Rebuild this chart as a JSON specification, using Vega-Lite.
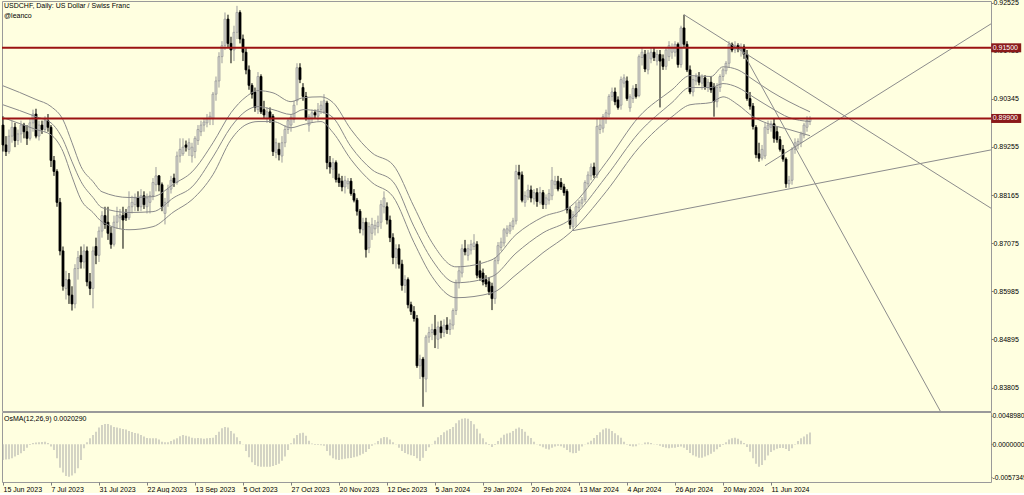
{
"$schema": "https://vega.github.io/schema/vega-lite/v6.json",
"background": "#FFFFE0",
"padding": {"left": 0, "top": -2, "right": 0, "bottom": 0},
"spacing": -1,
"resolve": {"scale": {"x": "independent", "y": "independent"}},
"config": {
  "view": {"stroke": "#9a9a9a", "strokeWidth": 1},
  "font": "Liberation Sans",
  "axis": {"labelFont": "Liberation Sans", "labelFontSize": 7, "labelColor": "#000000", "tickColor": "#808080", "domain": false, "grid": false, "title": null},
  "title": {"font": "Liberation Sans", "fontSize": 7, "fontWeight": "normal", "color": "#000000", "subtitleFont": "Liberation Sans", "subtitleFontSize": 7, "subtitleColor": "#000000", "anchor": "start"}
},
"datasets": {
"candles": [
{"i":0,"d":"2023-06-15","o":0.8975,"h":0.8995,"l":0.8915,"c":0.8930,"osma":-0.00271},
{"i":1,"d":"2023-06-16","o":0.8930,"h":0.8950,"l":0.8905,"c":0.8915,"osma":-0.00265},
{"i":2,"d":"2023-06-19","o":0.8915,"h":0.8965,"l":0.8910,"c":0.8950,"osma":-0.00260},
{"i":3,"d":"2023-06-20","o":0.8950,"h":0.8985,"l":0.8935,"c":0.8970,"osma":-0.00242},
{"i":4,"d":"2023-06-21","o":0.8970,"h":0.8980,"l":0.8925,"c":0.8940,"osma":-0.00213},
{"i":5,"d":"2023-06-22","o":0.8940,"h":0.8965,"l":0.8930,"c":0.8955,"osma":-0.00185},
{"i":6,"d":"2023-06-23","o":0.8955,"h":0.8985,"l":0.8935,"c":0.8975,"osma":-0.00156},
{"i":7,"d":"2023-06-26","o":0.8975,"h":0.8980,"l":0.8945,"c":0.8960,"osma":-0.00115},
{"i":8,"d":"2023-06-27","o":0.8960,"h":0.8975,"l":0.8930,"c":0.8945,"osma":-0.00058},
{"i":9,"d":"2023-06-28","o":0.8945,"h":0.8990,"l":0.8940,"c":0.8980,"osma":-0.00012},
{"i":10,"d":"2023-06-29","o":0.8980,"h":0.9010,"l":0.8960,"c":0.9000,"osma":0.00023},
{"i":11,"d":"2023-06-30","o":0.9000,"h":0.9012,"l":0.8945,"c":0.8950,"osma":0.00029},
{"i":12,"d":"2023-07-03","o":0.8950,"h":0.8985,"l":0.8940,"c":0.8975,"osma":0.00035},
{"i":13,"d":"2023-07-04","o":0.8975,"h":0.8985,"l":0.8955,"c":0.8965,"osma":0.00040},
{"i":14,"d":"2023-07-05","o":0.8965,"h":0.8995,"l":0.8960,"c":0.8985,"osma":0.00046},
{"i":15,"d":"2023-07-06","o":0.8985,"h":0.9000,"l":0.8960,"c":0.8970,"osma":0.00023},
{"i":16,"d":"2023-07-07","o":0.8970,"h":0.8975,"l":0.8880,"c":0.8895,"osma":-0.00040},
{"i":17,"d":"2023-07-10","o":0.8895,"h":0.8905,"l":0.8860,"c":0.8870,"osma":-0.00098},
{"i":18,"d":"2023-07-11","o":0.8870,"h":0.8875,"l":0.8790,"c":0.8800,"osma":-0.00242},
{"i":19,"d":"2023-07-12","o":0.8800,"h":0.8810,"l":0.8680,"c":0.8690,"osma":-0.00404},
{"i":20,"d":"2023-07-13","o":0.8690,"h":0.8700,"l":0.8600,"c":0.8610,"osma":-0.00490},
{"i":21,"d":"2023-07-14","o":0.8605,"h":0.8645,"l":0.8580,"c":0.8625,"osma":-0.00548},
{"i":22,"d":"2023-07-17","o":0.8625,"h":0.8640,"l":0.8570,"c":0.8590,"osma":-0.00560},
{"i":23,"d":"2023-07-18","o":0.8590,"h":0.8610,"l":0.8555,"c":0.8570,"osma":-0.00542},
{"i":24,"d":"2023-07-19","o":0.8570,"h":0.8660,"l":0.8560,"c":0.8650,"osma":-0.00502},
{"i":25,"d":"2023-07-20","o":0.8650,"h":0.8690,"l":0.8625,"c":0.8675,"osma":-0.00415},
{"i":26,"d":"2023-07-21","o":0.8680,"h":0.8700,"l":0.8650,"c":0.8665,"osma":-0.00271},
{"i":27,"d":"2023-07-24","o":0.8665,"h":0.8705,"l":0.8650,"c":0.8690,"osma":-0.00069},
{"i":28,"d":"2023-07-25","o":0.8690,"h":0.8700,"l":0.8610,"c":0.8620,"osma":0.00035},
{"i":29,"d":"2023-07-26","o":0.8620,"h":0.8640,"l":0.8590,"c":0.8605,"osma":0.00104},
{"i":30,"d":"2023-07-27","o":0.8605,"h":0.8700,"l":0.8560,"c":0.8690,"osma":0.00162},
{"i":31,"d":"2023-07-28","o":0.8700,"h":0.8720,"l":0.8660,"c":0.8680,"osma":0.00219},
{"i":32,"d":"2023-07-31","o":0.8680,"h":0.8745,"l":0.8665,"c":0.8735,"osma":0.00289},
{"i":33,"d":"2023-08-01","o":0.8735,"h":0.8780,"l":0.8720,"c":0.8770,"osma":0.00335},
{"i":34,"d":"2023-08-02","o":0.8770,"h":0.8790,"l":0.8740,"c":0.8750,"osma":0.00352},
{"i":35,"d":"2023-08-03","o":0.8755,"h":0.8790,"l":0.8715,"c":0.8730,"osma":0.00352},
{"i":36,"d":"2023-08-04","o":0.8730,"h":0.8745,"l":0.8695,"c":0.8705,"osma":0.00329},
{"i":37,"d":"2023-08-07","o":0.8705,"h":0.8770,"l":0.8700,"c":0.8755,"osma":0.00300},
{"i":38,"d":"2023-08-08","o":0.8755,"h":0.8790,"l":0.8740,"c":0.8770,"osma":0.00289},
{"i":39,"d":"2023-08-09","o":0.8765,"h":0.8785,"l":0.8740,"c":0.8772,"osma":0.00277},
{"i":40,"d":"2023-08-10","o":0.8770,"h":0.8790,"l":0.8695,"c":0.8760,"osma":0.00265},
{"i":41,"d":"2023-08-11","o":0.8775,"h":0.8785,"l":0.8758,"c":0.8765,"osma":0.00254},
{"i":42,"d":"2023-08-14","o":0.8765,"h":0.8825,"l":0.8760,"c":0.8790,"osma":0.00231},
{"i":43,"d":"2023-08-15","o":0.8790,"h":0.8815,"l":0.8775,"c":0.8800,"osma":0.00213},
{"i":44,"d":"2023-08-16","o":0.8795,"h":0.8820,"l":0.8780,"c":0.8810,"osma":0.00196},
{"i":45,"d":"2023-08-17","o":0.8810,"h":0.8825,"l":0.8780,"c":0.8790,"osma":0.00185},
{"i":46,"d":"2023-08-18","o":0.8790,"h":0.8830,"l":0.8780,"c":0.8815,"osma":0.00162},
{"i":47,"d":"2023-08-21","o":0.8815,"h":0.8825,"l":0.8785,"c":0.8795,"osma":0.00133},
{"i":48,"d":"2023-08-22","o":0.8790,"h":0.8820,"l":0.8775,"c":0.8810,"osma":0.00110},
{"i":49,"d":"2023-08-23","o":0.8800,"h":0.8825,"l":0.8775,"c":0.8815,"osma":0.00104},
{"i":50,"d":"2023-08-24","o":0.8815,"h":0.8855,"l":0.8805,"c":0.8845,"osma":0.00104},
{"i":51,"d":"2023-08-25","o":0.8840,"h":0.8880,"l":0.8825,"c":0.8860,"osma":0.00104},
{"i":52,"d":"2023-08-28","o":0.8860,"h":0.8862,"l":0.8825,"c":0.8840,"osma":0.00081},
{"i":53,"d":"2023-08-29","o":0.8840,"h":0.8845,"l":0.8780,"c":0.8790,"osma":0.00046},
{"i":54,"d":"2023-08-30","o":0.8775,"h":0.8810,"l":0.8750,"c":0.8800,"osma":0.00035},
{"i":55,"d":"2023-08-31","o":0.8800,"h":0.8840,"l":0.8790,"c":0.8830,"osma":0.00035},
{"i":56,"d":"2023-09-01","o":0.8830,"h":0.8860,"l":0.8820,"c":0.8850,"osma":0.00058},
{"i":57,"d":"2023-09-04","o":0.8855,"h":0.8865,"l":0.8835,"c":0.8845,"osma":0.00081},
{"i":58,"d":"2023-09-05","o":0.8845,"h":0.8915,"l":0.8840,"c":0.8905,"osma":0.00104},
{"i":59,"d":"2023-09-06","o":0.8905,"h":0.8945,"l":0.8890,"c":0.8920,"osma":0.00138},
{"i":60,"d":"2023-09-07","o":0.8910,"h":0.8945,"l":0.8905,"c":0.8925,"osma":0.00162},
{"i":61,"d":"2023-09-08","o":0.8930,"h":0.8940,"l":0.8915,"c":0.8925,"osma":0.00150},
{"i":62,"d":"2023-09-11","o":0.8920,"h":0.8945,"l":0.8905,"c":0.8935,"osma":0.00133},
{"i":63,"d":"2023-09-12","o":0.8905,"h":0.8935,"l":0.8890,"c":0.8925,"osma":0.00115},
{"i":64,"d":"2023-09-13","o":0.8915,"h":0.8950,"l":0.8900,"c":0.8945,"osma":0.00104},
{"i":65,"d":"2023-09-14","o":0.8940,"h":0.8975,"l":0.8930,"c":0.8965,"osma":0.00110},
{"i":66,"d":"2023-09-15","o":0.8960,"h":0.8985,"l":0.8950,"c":0.8975,"osma":0.00104},
{"i":67,"d":"2023-09-18","o":0.8975,"h":0.8990,"l":0.8960,"c":0.8982,"osma":0.00098},
{"i":68,"d":"2023-09-19","o":0.8980,"h":0.9000,"l":0.8970,"c":0.8990,"osma":0.00104},
{"i":69,"d":"2023-09-20","o":0.8990,"h":0.9005,"l":0.8975,"c":0.8995,"osma":0.00110},
{"i":70,"d":"2023-09-21","o":0.8990,"h":0.9050,"l":0.8975,"c":0.9045,"osma":0.00115},
{"i":71,"d":"2023-09-22","o":0.9045,"h":0.9085,"l":0.9030,"c":0.9075,"osma":0.00162},
{"i":72,"d":"2023-09-25","o":0.9075,"h":0.9140,"l":0.9060,"c":0.9130,"osma":0.00219},
{"i":73,"d":"2023-09-26","o":0.9130,"h":0.9165,"l":0.9115,"c":0.9155,"osma":0.00277},
{"i":74,"d":"2023-09-27","o":0.9155,"h":0.9230,"l":0.9145,"c":0.9215,"osma":0.00300},
{"i":75,"d":"2023-09-28","o":0.9215,"h":0.9225,"l":0.9150,"c":0.9160,"osma":0.00289},
{"i":76,"d":"2023-09-29","o":0.9160,"h":0.9175,"l":0.9115,"c":0.9145,"osma":0.00231},
{"i":77,"d":"2023-10-02","o":0.9145,"h":0.9200,"l":0.9120,"c":0.9185,"osma":0.00185},
{"i":78,"d":"2023-10-03","o":0.9185,"h":0.9245,"l":0.9170,"c":0.9230,"osma":0.00121},
{"i":79,"d":"2023-10-04","o":0.9230,"h":0.9235,"l":0.9160,"c":0.9170,"osma":0.00058},
{"i":80,"d":"2023-10-05","o":0.9170,"h":0.9180,"l":0.9120,"c":0.9140,"osma":-0.00005},
{"i":81,"d":"2023-10-06","o":0.9140,"h":0.9150,"l":0.9090,"c":0.9100,"osma":-0.00115},
{"i":82,"d":"2023-10-09","o":0.9100,"h":0.9110,"l":0.9055,"c":0.9065,"osma":-0.00225},
{"i":83,"d":"2023-10-10","o":0.9065,"h":0.9070,"l":0.9035,"c":0.9045,"osma":-0.00312},
{"i":84,"d":"2023-10-11","o":0.9050,"h":0.9060,"l":0.9005,"c":0.9015,"osma":-0.00358},
{"i":85,"d":"2023-10-12","o":0.9010,"h":0.9095,"l":0.9000,"c":0.9085,"osma":-0.00381},
{"i":86,"d":"2023-10-13","o":0.9085,"h":0.9090,"l":0.9000,"c":0.9005,"osma":-0.00387},
{"i":87,"d":"2023-10-16","o":0.9010,"h":0.9030,"l":0.8990,"c":0.8998,"osma":-0.00387},
{"i":88,"d":"2023-10-17","o":0.8990,"h":0.9015,"l":0.8980,"c":0.9005,"osma":-0.00387},
{"i":89,"d":"2023-10-18","o":0.9005,"h":0.9015,"l":0.8980,"c":0.8990,"osma":-0.00387},
{"i":90,"d":"2023-10-19","o":0.8995,"h":0.9000,"l":0.8905,"c":0.8915,"osma":-0.00375},
{"i":91,"d":"2023-10-20","o":0.8913,"h":0.8945,"l":0.8900,"c":0.8935,"osma":-0.00358},
{"i":92,"d":"2023-10-23","o":0.8920,"h":0.8935,"l":0.8895,"c":0.8908,"osma":-0.00335},
{"i":93,"d":"2023-10-24","o":0.8905,"h":0.8950,"l":0.8890,"c":0.8935,"osma":-0.00283},
{"i":94,"d":"2023-10-25","o":0.8935,"h":0.8975,"l":0.8925,"c":0.8965,"osma":-0.00213},
{"i":95,"d":"2023-10-26","o":0.8965,"h":0.8990,"l":0.8955,"c":0.8985,"osma":-0.00098},
{"i":96,"d":"2023-10-27","o":0.8975,"h":0.9000,"l":0.8960,"c":0.8993,"osma":0.00017},
{"i":97,"d":"2023-10-30","o":0.8988,"h":0.9030,"l":0.8980,"c":0.9020,"osma":0.00104},
{"i":98,"d":"2023-10-31","o":0.9030,"h":0.9115,"l":0.9020,"c":0.9105,"osma":0.00162},
{"i":99,"d":"2023-11-01","o":0.9105,"h":0.9115,"l":0.9070,"c":0.9078,"osma":0.00190},
{"i":100,"d":"2023-11-02","o":0.9060,"h":0.9070,"l":0.9030,"c":0.9040,"osma":0.00202},
{"i":101,"d":"2023-11-03","o":0.9040,"h":0.9050,"l":0.8985,"c":0.8990,"osma":0.00150},
{"i":102,"d":"2023-11-06","o":0.8975,"h":0.9000,"l":0.8960,"c":0.8995,"osma":0.00063},
{"i":103,"d":"2023-11-07","o":0.8990,"h":0.9010,"l":0.8980,"c":0.9003,"osma":0.00012},
{"i":104,"d":"2023-11-08","o":0.9003,"h":0.9010,"l":0.8990,"c":0.8998,"osma":-0.00012},
{"i":105,"d":"2023-11-09","o":0.8995,"h":0.9025,"l":0.8985,"c":0.9010,"osma":-0.00012},
{"i":106,"d":"2023-11-10","o":0.9010,"h":0.9030,"l":0.9000,"c":0.9020,"osma":-0.00017},
{"i":107,"d":"2023-11-13","o":0.9005,"h":0.9045,"l":0.9000,"c":0.9030,"osma":-0.00023},
{"i":108,"d":"2023-11-14","o":0.9025,"h":0.9030,"l":0.8875,"c":0.8890,"osma":-0.00115},
{"i":109,"d":"2023-11-15","o":0.8890,"h":0.8905,"l":0.8865,"c":0.8880,"osma":-0.00196},
{"i":110,"d":"2023-11-16","o":0.8875,"h":0.8900,"l":0.8855,"c":0.8890,"osma":-0.00242},
{"i":111,"d":"2023-11-17","o":0.8890,"h":0.8895,"l":0.8845,"c":0.8852,"osma":-0.00265},
{"i":112,"d":"2023-11-20","o":0.8855,"h":0.8865,"l":0.8835,"c":0.8845,"osma":-0.00271},
{"i":113,"d":"2023-11-21","o":0.8848,"h":0.8860,"l":0.8825,"c":0.8835,"osma":-0.00260},
{"i":114,"d":"2023-11-22","o":0.8835,"h":0.8860,"l":0.8820,"c":0.8850,"osma":-0.00248},
{"i":115,"d":"2023-11-23","o":0.8842,"h":0.8855,"l":0.8830,"c":0.8848,"osma":-0.00242},
{"i":116,"d":"2023-11-24","o":0.8848,"h":0.8855,"l":0.8815,"c":0.8820,"osma":-0.00237},
{"i":117,"d":"2023-11-27","o":0.8820,"h":0.8830,"l":0.8800,"c":0.8805,"osma":-0.00225},
{"i":118,"d":"2023-11-28","o":0.8805,"h":0.8810,"l":0.8770,"c":0.8780,"osma":-0.00213},
{"i":119,"d":"2023-11-29","o":0.8780,"h":0.8785,"l":0.8730,"c":0.8740,"osma":-0.00190},
{"i":120,"d":"2023-11-30","o":0.8738,"h":0.8765,"l":0.8725,"c":0.8754,"osma":-0.00162},
{"i":121,"d":"2023-12-01","o":0.8755,"h":0.8765,"l":0.8675,"c":0.8693,"osma":-0.00133},
{"i":122,"d":"2023-12-04","o":0.8697,"h":0.8755,"l":0.8685,"c":0.8745,"osma":-0.00081},
{"i":123,"d":"2023-12-05","o":0.8730,"h":0.8765,"l":0.8715,"c":0.8750,"osma":-0.00023},
{"i":124,"d":"2023-12-06","o":0.8740,"h":0.8760,"l":0.8725,"c":0.8748,"osma":0.00012},
{"i":125,"d":"2023-12-07","o":0.8745,"h":0.8770,"l":0.8730,"c":0.8755,"osma":0.00058},
{"i":126,"d":"2023-12-08","o":0.8755,"h":0.8805,"l":0.8740,"c":0.8795,"osma":0.00104},
{"i":127,"d":"2023-12-11","o":0.8790,"h":0.8825,"l":0.8775,"c":0.8810,"osma":0.00127},
{"i":128,"d":"2023-12-12","o":0.8790,"h":0.8800,"l":0.8750,"c":0.8760,"osma":0.00121},
{"i":129,"d":"2023-12-13","o":0.8760,"h":0.8770,"l":0.8710,"c":0.8720,"osma":0.00081},
{"i":130,"d":"2023-12-14","o":0.8720,"h":0.8730,"l":0.8660,"c":0.8675,"osma":0.00035},
{"i":131,"d":"2023-12-15","o":0.8675,"h":0.8705,"l":0.8650,"c":0.8695,"osma":-0.00005},
{"i":132,"d":"2023-12-18","o":0.8695,"h":0.8705,"l":0.8650,"c":0.8660,"osma":-0.00058},
{"i":133,"d":"2023-12-19","o":0.8660,"h":0.8670,"l":0.8600,"c":0.8612,"osma":-0.00115},
{"i":134,"d":"2023-12-20","o":0.8612,"h":0.8635,"l":0.8595,"c":0.8625,"osma":-0.00150},
{"i":135,"d":"2023-12-21","o":0.8625,"h":0.8630,"l":0.8560,"c":0.8568,"osma":-0.00173},
{"i":136,"d":"2023-12-22","o":0.8568,"h":0.8575,"l":0.8545,"c":0.8553,"osma":-0.00190},
{"i":137,"d":"2023-12-26","o":0.8553,"h":0.8565,"l":0.8530,"c":0.8537,"osma":-0.00202},
{"i":138,"d":"2023-12-27","o":0.8537,"h":0.8545,"l":0.8425,"c":0.8430,"osma":-0.00242},
{"i":139,"d":"2023-12-28","o":0.8430,"h":0.8455,"l":0.8400,"c":0.8445,"osma":-0.00289},
{"i":140,"d":"2023-12-29","o":0.8445,"h":0.8450,"l":0.8337,"c":0.8405,"osma":-0.00231},
{"i":141,"d":"2024-01-02","o":0.8400,"h":0.8500,"l":0.8370,"c":0.8495,"osma":-0.00115},
{"i":142,"d":"2024-01-03","o":0.8495,"h":0.8518,"l":0.8482,"c":0.8505,"osma":-0.00052},
{"i":143,"d":"2024-01-04","o":0.8505,"h":0.8525,"l":0.8488,"c":0.8512,"osma":0.00006},
{"i":144,"d":"2024-01-05","o":0.8512,"h":0.8545,"l":0.8470,"c":0.8500,"osma":0.00063},
{"i":145,"d":"2024-01-08","o":0.8490,"h":0.8530,"l":0.8468,"c":0.8518,"osma":0.00121},
{"i":146,"d":"2024-01-09","o":0.8518,"h":0.8532,"l":0.8492,"c":0.8505,"osma":0.00162},
{"i":147,"d":"2024-01-10","o":0.8505,"h":0.8535,"l":0.8495,"c":0.8522,"osma":0.00208},
{"i":148,"d":"2024-01-11","o":0.8522,"h":0.8540,"l":0.8502,"c":0.8512,"osma":0.00237},
{"i":149,"d":"2024-01-12","o":0.8512,"h":0.8535,"l":0.8500,"c":0.8525,"osma":0.00265},
{"i":150,"d":"2024-01-15","o":0.8522,"h":0.8560,"l":0.8512,"c":0.8555,"osma":0.00300},
{"i":151,"d":"2024-01-16","o":0.8555,"h":0.8625,"l":0.8545,"c":0.8618,"osma":0.00364},
{"i":152,"d":"2024-01-17","o":0.8618,"h":0.8655,"l":0.8605,"c":0.8645,"osma":0.00415},
{"i":153,"d":"2024-01-18","o":0.8640,"h":0.8705,"l":0.8630,"c":0.8695,"osma":0.00444},
{"i":154,"d":"2024-01-19","o":0.8695,"h":0.8715,"l":0.8680,"c":0.8688,"osma":0.00450},
{"i":155,"d":"2024-01-22","o":0.8680,"h":0.8705,"l":0.8668,"c":0.8695,"osma":0.00444},
{"i":156,"d":"2024-01-23","o":0.8692,"h":0.8715,"l":0.8682,"c":0.8705,"osma":0.00404},
{"i":157,"d":"2024-01-24","o":0.8700,"h":0.8728,"l":0.8692,"c":0.8708,"osma":0.00346},
{"i":158,"d":"2024-01-25","o":0.8705,"h":0.8712,"l":0.8628,"c":0.8635,"osma":0.00271},
{"i":159,"d":"2024-01-26","o":0.8645,"h":0.8668,"l":0.8622,"c":0.8630,"osma":0.00185},
{"i":160,"d":"2024-01-29","o":0.8640,"h":0.8650,"l":0.8612,"c":0.8620,"osma":0.00104},
{"i":161,"d":"2024-01-30","o":0.8625,"h":0.8635,"l":0.8608,"c":0.8615,"osma":0.00035},
{"i":162,"d":"2024-01-31","o":0.8620,"h":0.8630,"l":0.8590,"c":0.8598,"osma":-0.00012},
{"i":163,"d":"2024-02-01","o":0.8610,"h":0.8618,"l":0.8556,"c":0.8582,"osma":-0.00046},
{"i":164,"d":"2024-02-02","o":0.8582,"h":0.8675,"l":0.8570,"c":0.8668,"osma":-0.00012},
{"i":165,"d":"2024-02-05","o":0.8668,"h":0.8710,"l":0.8660,"c":0.8702,"osma":0.00058},
{"i":166,"d":"2024-02-06","o":0.8698,"h":0.8720,"l":0.8690,"c":0.8710,"osma":0.00115},
{"i":167,"d":"2024-02-07","o":0.8708,"h":0.8742,"l":0.8700,"c":0.8738,"osma":0.00167},
{"i":168,"d":"2024-02-08","o":0.8730,"h":0.8748,"l":0.8722,"c":0.8740,"osma":0.00185},
{"i":169,"d":"2024-02-09","o":0.8735,"h":0.8755,"l":0.8728,"c":0.8748,"osma":0.00202},
{"i":170,"d":"2024-02-12","o":0.8745,"h":0.8765,"l":0.8738,"c":0.8758,"osma":0.00231},
{"i":171,"d":"2024-02-13","o":0.8758,"h":0.8885,"l":0.8750,"c":0.8870,"osma":0.00271},
{"i":172,"d":"2024-02-14","o":0.8868,"h":0.8885,"l":0.8852,"c":0.8862,"osma":0.00289},
{"i":173,"d":"2024-02-15","o":0.8862,"h":0.8870,"l":0.8800,"c":0.8805,"osma":0.00265},
{"i":174,"d":"2024-02-16","o":0.8800,"h":0.8825,"l":0.8790,"c":0.8815,"osma":0.00219},
{"i":175,"d":"2024-02-19","o":0.8812,"h":0.8840,"l":0.8805,"c":0.8828,"osma":0.00150},
{"i":176,"d":"2024-02-20","o":0.8828,"h":0.8838,"l":0.8800,"c":0.8810,"osma":0.00110},
{"i":177,"d":"2024-02-21","o":0.8808,"h":0.8830,"l":0.8795,"c":0.8822,"osma":0.00046},
{"i":178,"d":"2024-02-22","o":0.8822,"h":0.8832,"l":0.8790,"c":0.8802,"osma":-0.00005},
{"i":179,"d":"2024-02-23","o":0.8800,"h":0.8835,"l":0.8795,"c":0.8822,"osma":-0.00023},
{"i":180,"d":"2024-02-26","o":0.8822,"h":0.8828,"l":0.8785,"c":0.8795,"osma":-0.00052},
{"i":181,"d":"2024-02-27","o":0.8795,"h":0.8818,"l":0.8785,"c":0.8810,"osma":-0.00075},
{"i":182,"d":"2024-02-28","o":0.8805,"h":0.8830,"l":0.8795,"c":0.8820,"osma":-0.00092},
{"i":183,"d":"2024-02-29","o":0.8815,"h":0.8880,"l":0.8805,"c":0.8850,"osma":-0.00058},
{"i":184,"d":"2024-03-01","o":0.8840,"h":0.8860,"l":0.8830,"c":0.8848,"osma":-0.00040},
{"i":185,"d":"2024-03-04","o":0.8848,"h":0.8860,"l":0.8825,"c":0.8830,"osma":-0.00023},
{"i":186,"d":"2024-03-05","o":0.8845,"h":0.8855,"l":0.8828,"c":0.8835,"osma":-0.00035},
{"i":187,"d":"2024-03-06","o":0.8835,"h":0.8842,"l":0.8815,"c":0.8822,"osma":-0.00058},
{"i":188,"d":"2024-03-07","o":0.8825,"h":0.8830,"l":0.8775,"c":0.8783,"osma":-0.00098},
{"i":189,"d":"2024-03-08","o":0.8783,"h":0.8790,"l":0.8740,"c":0.8750,"osma":-0.00138},
{"i":190,"d":"2024-03-11","o":0.8745,"h":0.8780,"l":0.8736,"c":0.8772,"osma":-0.00156},
{"i":191,"d":"2024-03-12","o":0.8768,"h":0.8800,"l":0.8745,"c":0.8790,"osma":-0.00150},
{"i":192,"d":"2024-03-13","o":0.8788,"h":0.8805,"l":0.8778,"c":0.8800,"osma":-0.00110},
{"i":193,"d":"2024-03-14","o":0.8798,"h":0.8812,"l":0.8790,"c":0.8806,"osma":-0.00040},
{"i":194,"d":"2024-03-15","o":0.8806,"h":0.8850,"l":0.8800,"c":0.8845,"osma":-0.00005},
{"i":195,"d":"2024-03-18","o":0.8842,"h":0.8870,"l":0.8835,"c":0.8862,"osma":0.00029},
{"i":196,"d":"2024-03-19","o":0.8860,"h":0.8888,"l":0.8850,"c":0.8880,"osma":0.00063},
{"i":197,"d":"2024-03-20","o":0.8880,"h":0.8890,"l":0.8855,"c":0.8862,"osma":0.00110},
{"i":198,"d":"2024-03-21","o":0.8862,"h":0.8990,"l":0.8855,"c":0.8972,"osma":0.00162},
{"i":199,"d":"2024-03-22","o":0.8965,"h":0.8990,"l":0.8955,"c":0.8975,"osma":0.00208},
{"i":200,"d":"2024-03-25","o":0.8968,"h":0.9000,"l":0.8958,"c":0.8994,"osma":0.00254},
{"i":201,"d":"2024-03-26","o":0.8990,"h":0.9010,"l":0.8978,"c":0.9003,"osma":0.00277},
{"i":202,"d":"2024-03-27","o":0.9000,"h":0.9045,"l":0.8992,"c":0.9040,"osma":0.00271},
{"i":203,"d":"2024-03-28","o":0.9040,"h":0.9060,"l":0.9030,"c":0.9050,"osma":0.00231},
{"i":204,"d":"2024-03-29","o":0.9050,"h":0.9060,"l":0.9020,"c":0.9028,"osma":0.00190},
{"i":205,"d":"2024-04-01","o":0.9032,"h":0.9040,"l":0.9010,"c":0.9015,"osma":0.00156},
{"i":206,"d":"2024-04-02","o":0.9020,"h":0.9085,"l":0.9010,"c":0.9078,"osma":0.00115},
{"i":207,"d":"2024-04-03","o":0.9070,"h":0.9090,"l":0.9060,"c":0.9082,"osma":0.00046},
{"i":208,"d":"2024-04-04","o":0.9075,"h":0.9085,"l":0.9030,"c":0.9035,"osma":-0.00006},
{"i":209,"d":"2024-04-05","o":0.9014,"h":0.9045,"l":0.9005,"c":0.9039,"osma":-0.00029},
{"i":210,"d":"2024-04-08","o":0.9035,"h":0.9065,"l":0.9025,"c":0.9058,"osma":-0.00040},
{"i":211,"d":"2024-04-09","o":0.9058,"h":0.9068,"l":0.9035,"c":0.9040,"osma":-0.00035},
{"i":212,"d":"2024-04-10","o":0.9042,"h":0.9135,"l":0.9038,"c":0.9130,"osma":0.00010},
{"i":213,"d":"2024-04-11","o":0.9128,"h":0.9150,"l":0.9110,"c":0.9140,"osma":0.00006},
{"i":214,"d":"2024-04-12","o":0.9135,"h":0.9145,"l":0.9095,"c":0.9102,"osma":0.00029},
{"i":215,"d":"2024-04-15","o":0.9100,"h":0.9145,"l":0.9090,"c":0.9138,"osma":0.00035},
{"i":216,"d":"2024-04-16","o":0.9125,"h":0.9150,"l":0.9115,"c":0.9140,"osma":0.00023},
{"i":217,"d":"2024-04-17","o":0.9140,"h":0.9150,"l":0.9120,"c":0.9128,"osma":0.00006},
{"i":218,"d":"2024-04-18","o":0.9120,"h":0.9145,"l":0.9110,"c":0.9135,"osma":-0.00006},
{"i":219,"d":"2024-04-19","o":0.9135,"h":0.9145,"l":0.9015,"c":0.9120,"osma":-0.00023},
{"i":220,"d":"2024-04-22","o":0.9125,"h":0.9135,"l":0.9100,"c":0.9108,"osma":-0.00046},
{"i":221,"d":"2024-04-23","o":0.9108,"h":0.9150,"l":0.9100,"c":0.9145,"osma":-0.00058},
{"i":222,"d":"2024-04-24","o":0.9130,"h":0.9165,"l":0.9120,"c":0.9155,"osma":-0.00069},
{"i":223,"d":"2024-04-25","o":0.9140,"h":0.9160,"l":0.9125,"c":0.9150,"osma":-0.00058},
{"i":224,"d":"2024-04-26","o":0.9140,"h":0.9165,"l":0.9130,"c":0.9158,"osma":-0.00058},
{"i":225,"d":"2024-04-29","o":0.9158,"h":0.9162,"l":0.9105,"c":0.9112,"osma":-0.00046},
{"i":226,"d":"2024-04-30","o":0.9112,"h":0.9200,"l":0.9105,"c":0.9195,"osma":-0.00040},
{"i":227,"d":"2024-05-01","o":0.9195,"h":0.9225,"l":0.9150,"c":0.9158,"osma":-0.00058},
{"i":228,"d":"2024-05-02","o":0.9158,"h":0.9165,"l":0.9095,"c":0.9100,"osma":-0.00098},
{"i":229,"d":"2024-05-03","o":0.9100,"h":0.9110,"l":0.9045,"c":0.9050,"osma":-0.00150},
{"i":230,"d":"2024-05-06","o":0.9050,"h":0.9085,"l":0.9040,"c":0.9078,"osma":-0.00190},
{"i":231,"d":"2024-05-07","o":0.9075,"h":0.9092,"l":0.9065,"c":0.9085,"osma":-0.00213},
{"i":232,"d":"2024-05-08","o":0.9085,"h":0.9095,"l":0.9065,"c":0.9072,"osma":-0.00231},
{"i":233,"d":"2024-05-09","o":0.9070,"h":0.9090,"l":0.9055,"c":0.9082,"osma":-0.00231},
{"i":234,"d":"2024-05-10","o":0.9082,"h":0.9088,"l":0.9055,"c":0.9062,"osma":-0.00213},
{"i":235,"d":"2024-05-13","o":0.9060,"h":0.9080,"l":0.9050,"c":0.9072,"osma":-0.00190},
{"i":236,"d":"2024-05-14","o":0.9072,"h":0.9085,"l":0.9048,"c":0.9055,"osma":-0.00162},
{"i":237,"d":"2024-05-15","o":0.9062,"h":0.9070,"l":0.8994,"c":0.9028,"osma":-0.00127},
{"i":238,"d":"2024-05-16","o":0.9028,"h":0.9070,"l":0.9015,"c":0.9060,"osma":-0.00087},
{"i":239,"d":"2024-05-17","o":0.9060,"h":0.9090,"l":0.9050,"c":0.9085,"osma":-0.00046},
{"i":240,"d":"2024-05-20","o":0.9085,"h":0.9105,"l":0.9075,"c":0.9100,"osma":-0.00012},
{"i":241,"d":"2024-05-21","o":0.9098,"h":0.9120,"l":0.9090,"c":0.9115,"osma":0.00035},
{"i":242,"d":"2024-05-22","o":0.9115,"h":0.9165,"l":0.9105,"c":0.9158,"osma":0.00081},
{"i":243,"d":"2024-05-23","o":0.9158,"h":0.9162,"l":0.9140,"c":0.9145,"osma":0.00104},
{"i":244,"d":"2024-05-24","o":0.9145,"h":0.9165,"l":0.9138,"c":0.9155,"osma":0.00115},
{"i":245,"d":"2024-05-27","o":0.9155,"h":0.9160,"l":0.9140,"c":0.9148,"osma":0.00098},
{"i":246,"d":"2024-05-28","o":0.9145,"h":0.9160,"l":0.9130,"c":0.9152,"osma":0.00063},
{"i":247,"d":"2024-05-29","o":0.9152,"h":0.9158,"l":0.9125,"c":0.9135,"osma":0.00023},
{"i":248,"d":"2024-05-30","o":0.9135,"h":0.9145,"l":0.9030,"c":0.9035,"osma":-0.00046},
{"i":249,"d":"2024-05-31","o":0.9035,"h":0.9050,"l":0.9010,"c":0.9018,"osma":-0.00127},
{"i":250,"d":"2024-06-03","o":0.9018,"h":0.9025,"l":0.8965,"c":0.8972,"osma":-0.00242},
{"i":251,"d":"2024-06-04","o":0.8970,"h":0.8975,"l":0.8900,"c":0.8908,"osma":-0.00335},
{"i":252,"d":"2024-06-05","o":0.8910,"h":0.8935,"l":0.8892,"c":0.8900,"osma":-0.00387},
{"i":253,"d":"2024-06-06","o":0.8900,"h":0.8930,"l":0.8895,"c":0.8920,"osma":-0.00358},
{"i":254,"d":"2024-06-07","o":0.8905,"h":0.8980,"l":0.8898,"c":0.8970,"osma":-0.00277},
{"i":255,"d":"2024-06-10","o":0.8965,"h":0.8985,"l":0.8955,"c":0.8975,"osma":-0.00196},
{"i":256,"d":"2024-06-11","o":0.8970,"h":0.8985,"l":0.8960,"c":0.8978,"osma":-0.00133},
{"i":257,"d":"2024-06-12","o":0.8978,"h":0.8990,"l":0.8935,"c":0.8945,"osma":-0.00104},
{"i":258,"d":"2024-06-13","o":0.8960,"h":0.8972,"l":0.8935,"c":0.8942,"osma":-0.00075},
{"i":259,"d":"2024-06-14","o":0.8942,"h":0.8950,"l":0.8915,"c":0.8920,"osma":-0.00063},
{"i":260,"d":"2024-06-17","o":0.8920,"h":0.8930,"l":0.8892,"c":0.8898,"osma":-0.00063},
{"i":261,"d":"2024-06-18","o":0.8898,"h":0.8902,"l":0.8833,"c":0.8842,"osma":-0.00081},
{"i":262,"d":"2024-06-19","o":0.8842,"h":0.8860,"l":0.8833,"c":0.8850,"osma":-0.00115},
{"i":263,"d":"2024-06-20","o":0.8850,"h":0.8925,"l":0.8840,"c":0.8920,"osma":-0.00069},
{"i":264,"d":"2024-06-21","o":0.8920,"h":0.8945,"l":0.8910,"c":0.8935,"osma":-0.00006},
{"i":265,"d":"2024-06-24","o":0.8930,"h":0.8945,"l":0.8920,"c":0.8938,"osma":0.00058},
{"i":266,"d":"2024-06-25","o":0.8935,"h":0.8960,"l":0.8925,"c":0.8955,"osma":0.00104},
{"i":267,"d":"2024-06-26","o":0.8952,"h":0.8980,"l":0.8945,"c":0.8975,"osma":0.00133},
{"i":268,"d":"2024-06-27","o":0.8970,"h":0.8995,"l":0.8960,"c":0.8985,"osma":0.00173},
{"i":269,"d":"2024-06-28","o":0.8983,"h":0.8995,"l":0.8975,"c":0.8990,"osma":0.00203}
],
"env": [
{"i":0,"up":0.9064,"mid":0.9021,"lo":0.8992},
{"i":11,"up":0.9033,"mid":0.8994,"lo":0.8965},
{"i":16,"up":0.9017,"mid":0.8980,"lo":0.8953},
{"i":20,"up":0.8987,"mid":0.8942,"lo":0.8915},
{"i":23,"up":0.8935,"mid":0.8892,"lo":0.8858},
{"i":26,"up":0.8881,"mid":0.8847,"lo":0.8806},
{"i":30,"up":0.8847,"mid":0.8811,"lo":0.8777},
{"i":33,"up":0.8824,"mid":0.8788,"lo":0.8756},
{"i":42,"up":0.8811,"mid":0.8777,"lo":0.8738},
{"i":50,"up":0.8813,"mid":0.8779,"lo":0.8745},
{"i":57,"up":0.8842,"mid":0.8811,"lo":0.8779},
{"i":63,"up":0.8869,"mid":0.8835,"lo":0.8806},
{"i":70,"up":0.8935,"mid":0.8903,"lo":0.8863},
{"i":76,"up":0.9003,"mid":0.8971,"lo":0.8942},
{"i":81,"up":0.9039,"mid":0.9007,"lo":0.8976},
{"i":85,"up":0.9053,"mid":0.9017,"lo":0.8983},
{"i":90,"up":0.9048,"mid":0.9010,"lo":0.8983},
{"i":96,"up":0.9028,"mid":0.8999,"lo":0.8969},
{"i":100,"up":0.9037,"mid":0.9010,"lo":0.8976},
{"i":106,"up":0.9039,"mid":0.9005,"lo":0.8983},
{"i":110,"up":0.9026,"mid":0.8992,"lo":0.8958},
{"i":116,"up":0.8965,"mid":0.8926,"lo":0.8897},
{"i":123,"up":0.8912,"mid":0.8874,"lo":0.8845},
{"i":130,"up":0.8885,"mid":0.8847,"lo":0.8813},
{"i":137,"up":0.8790,"mid":0.8745,"lo":0.8709},
{"i":143,"up":0.8709,"mid":0.8670,"lo":0.8632},
{"i":151,"up":0.8654,"mid":0.8618,"lo":0.8584},
{"i":163,"up":0.8670,"mid":0.8632,"lo":0.8595},
{"i":171,"up":0.8727,"mid":0.8685,"lo":0.8636},
{"i":180,"up":0.8767,"mid":0.8731,"lo":0.8686},
{"i":189,"up":0.8790,"mid":0.8761,"lo":0.8731},
{"i":201,"up":0.8890,"mid":0.8858,"lo":0.8824},
{"i":212,"up":0.8994,"mid":0.8958,"lo":0.8924},
{"i":223,"up":0.9055,"mid":0.9026,"lo":0.8994},
{"i":229,"up":0.9087,"mid":0.9060,"lo":0.9021},
{"i":236,"up":0.9085,"mid":0.9060,"lo":0.9026},
{"i":240,"up":0.9107,"mid":0.9069,"lo":0.9039},
{"i":245,"up":0.9100,"mid":0.9060,"lo":0.9021},
{"i":250,"up":0.9078,"mid":0.9039,"lo":0.8994},
{"i":256,"up":0.9051,"mid":0.9014,"lo":0.8976},
{"i":262,"up":0.9028,"mid":0.8992,"lo":0.8965},
{"i":269,"up":0.9005,"mid":0.8983,"lo":0.8951}
],
"lines": [
{"id":"a","i":227,"p":0.9225},{"id":"a","i":329.5,"p":0.8786},
{"id":"b","i":190,"p":0.8736},{"id":"b","i":329.5,"p":0.8919},
{"id":"c","i":254,"p":0.8883},{"id":"c","i":329.5,"p":0.9205},
{"id":"d","i":245,"p":0.9160},{"id":"d","i":314,"p":0.8308}
],
"levels": [
{"price":0.915,"label":"0.91500"},
{"price":0.899,"label":"0.89900"}
]
},
"vconcat": [
{
  "width": 989,
  "height": 410,
  "title": {"text": "USDCHF, Daily:  US Dollar / Swiss Franc", "subtitle": "@leanco", "offset": -20, "dx": 3, "subtitlePadding": 2.5},
  "layer": [
    {
      "data": {"name": "candles"},
      "mark": {"type": "rule", "strokeWidth": 1},
      "encoding": {
        "x": {"field": "i", "type": "quantitative", "scale": {"domain": [-0.3333, 329.3333], "nice": false, "zero": false, "padding": 0}, "axis": null},
        "y": {"field": "l", "type": "quantitative", "scale": {"domain": [0.83275, 0.9256], "nice": false, "zero": false, "padding": 0},
              "axis": {"orient": "right", "values": [0.92525, 0.9198, 0.91435, 0.9089, 0.90345, 0.898, 0.89255, 0.8871, 0.88165, 0.8762, 0.87075, 0.8653, 0.85985, 0.8544, 0.84895, 0.8435, 0.83805], "format": ".5f", "tickSize": 2, "labelPadding": 0}},
        "y2": {"field": "h"},
        "color": {"condition": {"test": "datum.c >= datum.o", "value": "#9c9c9c"}, "value": "#000000"}
      }
    },
    {
      "data": {"name": "candles"},
      "mark": {"type": "bar", "size": 2, "strokeWidth": 0.8},
      "encoding": {
        "x": {"field": "i", "type": "quantitative"},
        "y": {"field": "o", "type": "quantitative"},
        "y2": {"field": "c"},
        "fill": {"condition": {"test": "datum.c >= datum.o", "value": "#d6d6cc"}, "value": "#000000"},
        "stroke": {"condition": {"test": "datum.c >= datum.o", "value": "#9c9c9c"}, "value": "#000000"}
      }
    },
    {
      "data": {"name": "env"},
      "mark": {"type": "line", "color": "#8a8a8a", "strokeWidth": 1, "interpolate": "monotone"},
      "encoding": {"x": {"field": "i", "type": "quantitative"}, "y": {"field": "up", "type": "quantitative"}}
    },
    {
      "data": {"name": "env"},
      "mark": {"type": "line", "color": "#8a8a8a", "strokeWidth": 1, "interpolate": "monotone"},
      "encoding": {"x": {"field": "i", "type": "quantitative"}, "y": {"field": "mid", "type": "quantitative"}}
    },
    {
      "data": {"name": "env"},
      "mark": {"type": "line", "color": "#8a8a8a", "strokeWidth": 1, "interpolate": "monotone"},
      "encoding": {"x": {"field": "i", "type": "quantitative"}, "y": {"field": "lo", "type": "quantitative"}}
    },
    {
      "data": {"name": "lines"},
      "mark": {"type": "line", "color": "#8c8c8c", "strokeWidth": 1, "clip": true},
      "encoding": {"x": {"field": "i", "type": "quantitative"}, "y": {"field": "p", "type": "quantitative"}, "detail": {"field": "id"}}
    },
    {
      "data": {"name": "levels"},
      "mark": {"type": "rule", "color": "#9b1313", "strokeWidth": 2},
      "encoding": {"y": {"field": "price", "type": "quantitative"}}
    },
    {
      "data": {"name": "levels"},
      "mark": {"type": "bar", "color": "#8b1a1a", "size": 9},
      "encoding": {"y": {"field": "price", "type": "quantitative"}, "x": {"datum": 329.4}, "x2": {"datum": 339.4}}
    },
    {
      "data": {"name": "levels"},
      "mark": {"type": "text", "color": "#ffffff", "fontSize": 7, "font": "Liberation Sans", "align": "left", "baseline": "middle"},
      "encoding": {"y": {"field": "price", "type": "quantitative"}, "x": {"datum": 329.9}, "text": {"field": "label"}}
    }
  ]
},
{
  "width": 989,
  "height": 70,
  "title": {"text": "OsMA(12,26,9) 0.0020290", "offset": -10, "dx": 2},
  "data": {"name": "candles"},
  "mark": {"type": "bar", "size": 1, "color": "#a8a8a8"},
  "encoding": {
    "x": {"field": "i", "type": "quantitative", "scale": {"domain": [-0.3333, 329.3333], "nice": false, "zero": false, "padding": 0},
          "axis": {"values": [0,16,32,48,64,80,96,112,128,144,160,176,192,208,224,240,256],
                   "labelExpr": "['15 Jun 2023','7 Jul 2023','31 Jul 2023','22 Aug 2023','13 Sep 2023','5 Oct 2023','27 Oct 2023','20 Nov 2023','12 Dec 2023','5 Jan 2024','29 Jan 2024','20 Feb 2024','13 Mar 2024','4 Apr 2024','26 Apr 2024','20 May 2024','11 Jun 2024'][datum.value / 16]",
                   "tickSize": 3, "labelAlign": "left", "labelOffset": 0, "labelPadding": 0, "labelFlush": false, "labelOverlap": false, "labelBound": false}},
    "y": {"field": "osma", "type": "quantitative", "scale": {"domain": [-0.006525, 0.00559], "nice": false, "zero": false, "padding": 0},
          "axis": {"orient": "right", "values": [0.004898, 0, -0.0057349], "labelExpr": "replace(format(datum.value, '.7f'), '\u2212', '-')", "tickSize": 1, "labelPadding": 0, "labelFontSize": 6.8}},
    "y2": {"datum": 0}
  }
}
]
}
